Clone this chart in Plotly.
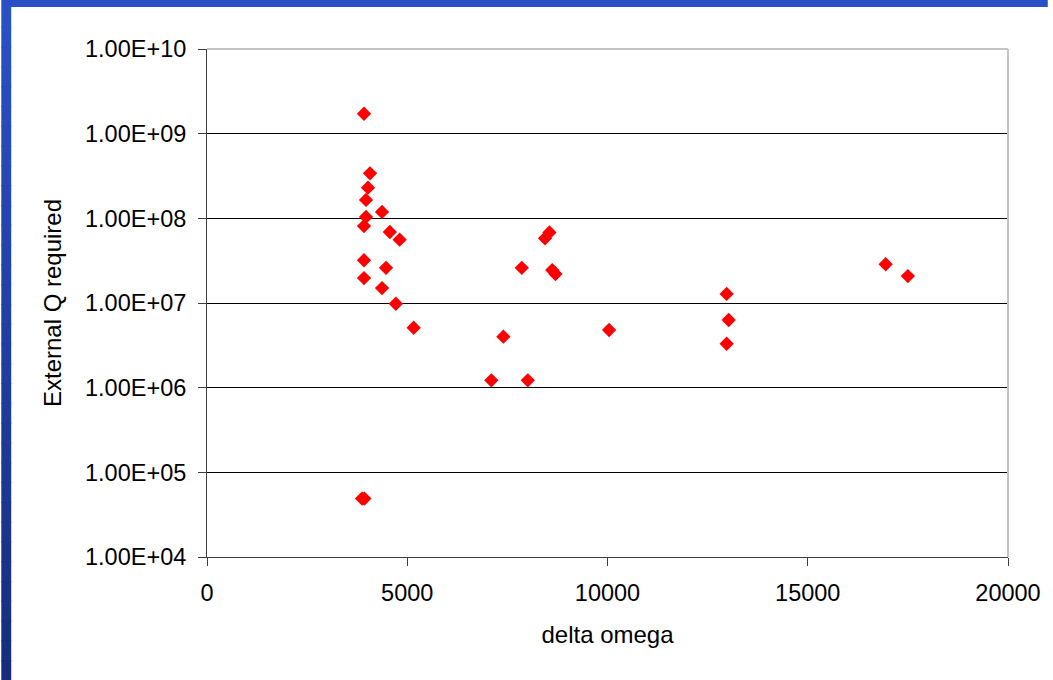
import plotly.graph_objects as go

# delta omega vs external Q required
delta_omega = [
    3920, 4070, 4020, 3970, 3970, 3920, 4370, 4565, 4810, 3920,
    4470, 3920, 4370, 4715, 5160, 3870, 3930,
    8550, 8440, 7860, 8620, 8700, 7400, 7100, 8010, 10040,
    12975, 13025, 12975, 16945, 17500,
]
external_q = [
    1.72e9, 3.4e8, 2.3e8, 1.65e8, 1.04e8, 8.1e7, 1.19e8, 6.9e7, 5.6e7, 3.2e7,
    2.6e7, 1.97e7, 1.5e7, 9.8e6, 5.1e6, 4.9e4, 4.9e4,
    6.8e7, 5.8e7, 2.6e7, 2.45e7, 2.2e7, 4.0e6, 1.22e6, 1.22e6, 4.8e6,
    1.28e7, 6.3e6, 3.3e6, 2.87e7, 2.08e7,
]

y_tickvals = [1e4, 1e5, 1e6, 1e7, 1e8, 1e9, 1e10]
y_ticktext = ["1.00E+04", "1.00E+05", "1.00E+06", "1.00E+07", "1.00E+08", "1.00E+09", "1.00E+10"]
x_tickvals = [0, 5000, 10000, 15000, 20000]

FONT = "Liberation Sans, Arial, sans-serif"

fig = go.Figure()
fig.add_trace(go.Scatter(
    x=delta_omega, y=external_q, mode="markers",
    marker=dict(symbol="diamond", size=11, color="#ff0000", line=dict(width=0)),
    showlegend=False,
))

W, H = 1053, 680
L, R, T, B = 207, 40, 49, 123
pw, ph = W - L - R, H - T - B

def px_x(p):
    return (p - L) / pw

def px_y(p):
    return (H - B - p) / ph

shapes = []
# blue slide frame: top band and a left band darkening downward
shapes.append(dict(type="rect", xref="paper", yref="paper",
                   x0=px_x(0), x1=px_x(W), y0=px_y(7), y1=px_y(0),
                   fillcolor="#2a50c6", line=dict(width=0), layer="above"))
n = 34
c0 = (0x2a, 0x50, 0xc6)
c1 = (0x17, 0x2d, 0x7c)
for i in range(n):
    t = i / (n - 1)
    c = tuple(round(a + (b - a) * t) for a, b in zip(c0, c1))
    y0 = 7 + (H - 7) * i / n
    y1 = 7 + (H - 7) * (i + 1) / n + 1
    shapes.append(dict(type="rect", xref="paper", yref="paper",
                       x0=px_x(0), x1=px_x(10), y0=px_y(y1), y1=px_y(y0),
                       fillcolor="rgb(%d,%d,%d)" % c, line=dict(width=0), layer="above"))
# light grey frame on the top and right of the plot area
shapes.append(dict(type="line", xref="paper", yref="paper", x0=0, x1=1, y0=1, y1=1,
                   line=dict(color="#c4c4c4", width=2), layer="above"))
shapes.append(dict(type="line", xref="paper", yref="paper", x0=1, x1=1, y0=0, y1=1,
                   line=dict(color="#c4c4c4", width=2), layer="above"))

fig.update_layout(
    width=W, height=H,
    margin=dict(l=L, r=R, t=T, b=B, pad=0),
    paper_bgcolor="white", plot_bgcolor="white",
    font=dict(family=FONT, size=23.5, color="#000000"),
    shapes=shapes,
    xaxis=dict(
        range=[0, 20000], tickvals=x_tickvals, ticktext=[str(v) for v in x_tickvals],
        showgrid=False, zeroline=False,
        showline=True, linecolor="#404040", linewidth=1,
        ticks="outside", ticklen=8, tickcolor="#404040", tickwidth=1,
        ticklabelstandoff=7,
        title=dict(text="delta omega", standoff=20, font=dict(size=24)),
    ),
    yaxis=dict(
        type="log", range=[4, 10], tickvals=y_tickvals, ticktext=y_ticktext,
        showgrid=True, gridcolor="#000000", gridwidth=1, zeroline=False,
        showline=True, linecolor="#404040", linewidth=1,
        ticks="outside", ticklen=8, tickcolor="#404040", tickwidth=1,
        ticklabelstandoff=7,
        title=dict(text="External Q required", standoff=16, font=dict(size=24)),
    ),
)

fig.write_html("out.html")
